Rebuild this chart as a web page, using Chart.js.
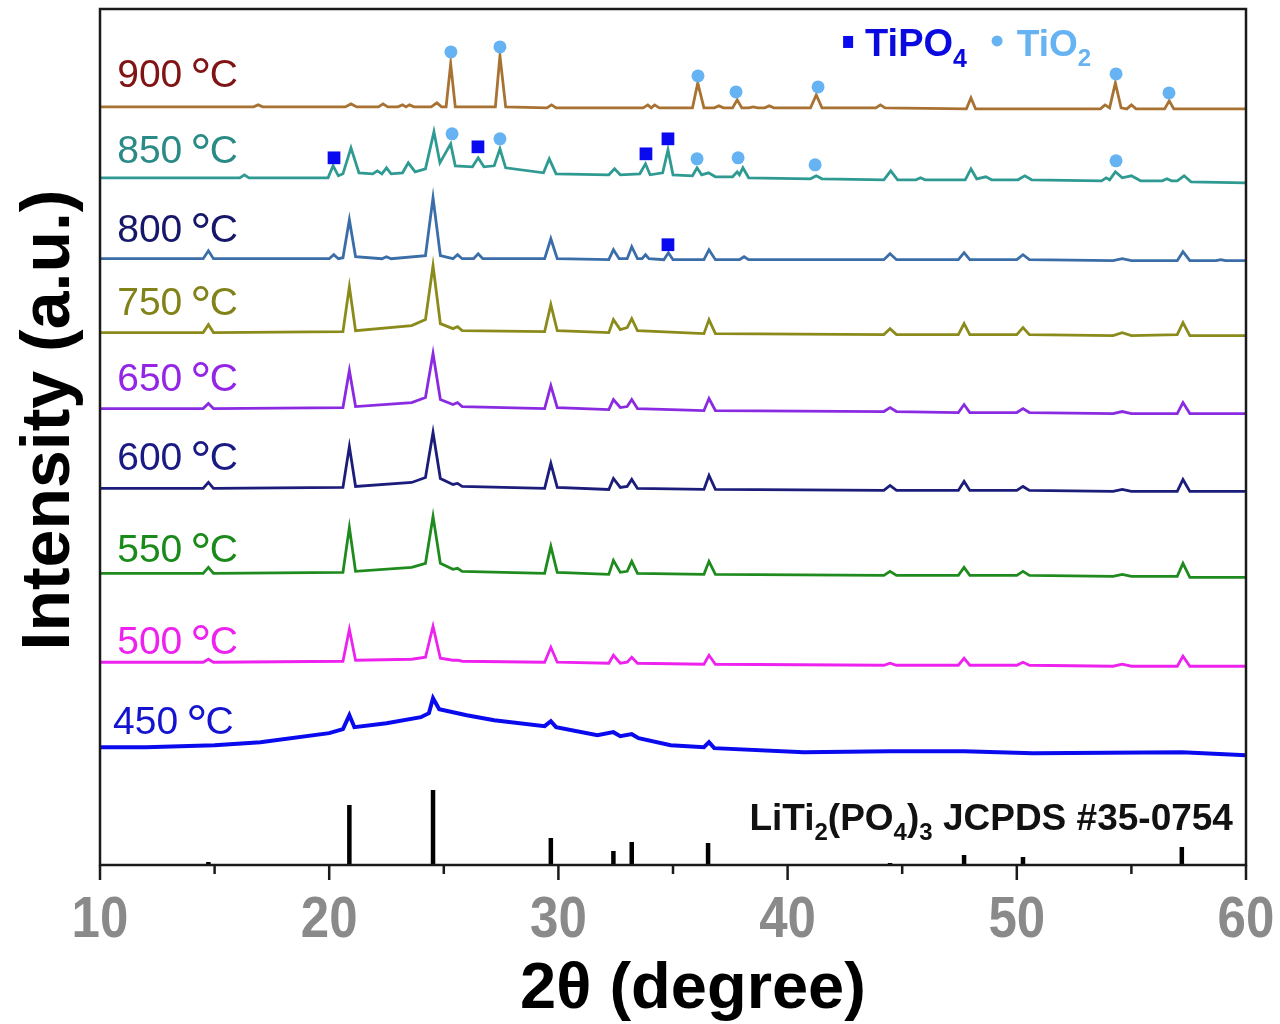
<!DOCTYPE html>
<html>
<head>
<meta charset="utf-8">
<title>XRD patterns</title>
<script src="https://cdn.jsdelivr.net/npm/chart.js@4.4.1/dist/chart.umd.min.js"></script>
<style>
  html, body { margin: 0; padding: 0; background: #fff; }
  #wrap { width: 1280px; height: 1024px; }
</style>
</head>
<body>
<div id="wrap"><canvas id="mycanvas" width="1280" height="1024"></canvas></div>
<script>
// 2theta positions shared by the 500-750 patterns
var twoTheta = [10, 14.5, 14.73, 14.95, 20.6, 20.88, 21.15, 23.6, 24.2, 24.53, 24.85, 25.4, 25.6, 25.8,
  29.4, 29.67, 29.95, 32.2, 32.4, 32.7, 33.0, 33.2, 33.45, 36.35, 36.57, 36.85, 44.2, 44.47, 44.75,
  47.45, 47.7, 47.95, 50.0, 50.27, 50.55, 54.2, 54.6, 55.0, 57.0, 57.25, 57.55, 60];

var y750 = [533, 533, 541, 533, 534, 579, 535, 540, 546, 600, 542, 537, 539, 535,
  534, 561, 535, 533, 546, 536, 538, 547, 535, 532, 546, 532, 531, 537, 531,
  531, 542, 531, 531, 538, 531, 530, 533, 530, 531, 543, 530, 530];
var y650 = [457, 457, 462, 457, 458, 495, 459, 463, 468, 512, 466, 461, 463, 459,
  457, 480, 458, 456, 466, 458, 459, 466, 457, 455, 467, 455, 454, 458, 454,
  453, 461, 453, 453, 457, 453, 452, 454, 452, 452, 463, 452, 452];
var y600 = [377, 377, 383, 377, 378, 419, 379, 383, 388, 433, 387, 381, 382, 379,
  377, 402, 378, 376, 387, 378, 379, 386, 377, 376, 390, 376, 375, 380, 375,
  375, 384, 375, 375, 379, 375, 374, 376, 374, 374, 386, 374, 374];
var y550 = [292, 292, 298, 292, 293, 338, 294, 298, 302, 349, 302, 296, 297, 294,
  292, 319, 293, 291, 305, 293, 294, 304, 292, 291, 304, 291, 290, 294, 290,
  290, 298, 290, 290, 294, 290, 289, 291, 289, 289, 302, 288, 288];
var y500 = [203, 203, 206, 203, 204, 236, 205, 206, 208, 239, 207, 205, 205, 204,
  203, 218, 203, 202, 210, 202, 203, 208, 202, 201, 210, 201, 200, 202, 200,
  200, 207, 200, 200, 203, 200, 199, 201, 199, 199, 209, 199, 199];

var trace900 = [[10, 759], [16.7, 759], [16.9, 761], [17.1, 759], [20.7, 759], [20.95, 762], [21.2, 759],
  [22.15, 759], [22.35, 762], [22.55, 759], [23.0, 759], [23.2, 761], [23.35, 759], [23.5, 761], [23.7, 759],
  [24.45, 759], [24.7, 763], [24.9, 759], [25.1, 759], [25.3, 802], [25.5, 759], [27.25, 759], [27.45, 810],
  [27.7, 759], [29.5, 758], [29.7, 761], [29.9, 758], [33.7, 758], [33.9, 761], [34.05, 758], [34.2, 761],
  [34.4, 758], [35.85, 758], [36.08, 783], [36.35, 758], [36.8, 758], [37.0, 760], [37.2, 758], [37.6, 758],
  [37.8, 766], [38.0, 758], [38.3, 758], [38.5, 759], [38.7, 758], [39.0, 758], [39.2, 760], [39.4, 758],
  [41.0, 758], [41.25, 771], [41.5, 758], [43.85, 758], [44.05, 761], [44.25, 758], [47.8, 757], [48.0, 768],
  [48.2, 757], [53.65, 757], [53.85, 761], [54.05, 758], [54.3, 783], [54.55, 758], [54.8, 757], [55.0, 761],
  [55.2, 757], [56.45, 757], [56.65, 765], [56.85, 757], [60, 757]];

var trace850 = [[10, 688], [16.1, 688], [16.3, 691], [16.5, 688], [19.95, 688], [20.17, 700], [20.4, 690],
  [20.6, 692], [20.95, 718], [21.3, 693], [21.9, 692], [22.1, 695], [22.3, 692], [22.5, 698], [22.7, 692],
  [23.2, 693], [23.45, 703], [23.75, 694], [24.2, 697], [24.57, 734], [24.83, 703], [25.3, 722], [25.5, 700],
  [26.25, 699], [26.5, 708], [26.75, 699], [27.2, 700], [27.45, 717], [27.7, 698], [29.35, 693], [29.6, 707],
  [29.9, 692], [32.2, 691], [32.45, 697], [32.7, 691], [33.55, 692], [33.8, 702], [34.0, 691], [34.55, 693],
  [34.78, 716], [35.0, 691], [35.85, 690], [36.05, 698], [36.25, 691], [36.55, 693], [36.85, 689], [37.6, 689],
  [37.8, 694], [37.9, 691], [38.05, 698], [38.3, 688], [41.0, 687], [41.25, 690], [41.5, 687], [44.2, 686],
  [44.5, 695], [44.8, 686], [45.6, 686], [45.8, 688], [46.0, 686], [47.75, 686], [48.0, 697], [48.25, 687],
  [48.65, 689], [48.9, 686], [50.05, 686], [50.35, 690], [50.65, 686], [53.7, 685], [53.9, 688], [54.05, 686],
  [54.3, 694], [54.6, 688], [55.0, 690], [55.4, 685], [56.35, 685], [56.55, 687], [56.75, 685], [57.0, 685],
  [57.3, 690], [57.6, 684], [60, 683]];

var trace800 = [[10, 607], [14.5, 607], [14.73, 615], [14.95, 607], [20.0, 607], [20.2, 611], [20.4, 607],
  [20.6, 608], [20.88, 646], [21.15, 609], [22.3, 607], [22.5, 609], [22.7, 607], [24.2, 610], [24.53, 668],
  [24.85, 610], [25.4, 607], [25.6, 611], [25.8, 607], [26.3, 607], [26.5, 612], [26.7, 607], [29.4, 607],
  [29.67, 627], [29.95, 607], [32.2, 606], [32.4, 616], [32.65, 607], [33.0, 607], [33.2, 619], [33.45, 607],
  [33.65, 607], [33.8, 611], [33.95, 607], [34.6, 606], [34.8, 613], [35.0, 606], [36.35, 606], [36.57, 616],
  [36.85, 606], [37.9, 606], [38.1, 609], [38.3, 606], [44.2, 606], [44.47, 612], [44.75, 606], [47.45, 606],
  [47.7, 613], [47.95, 606], [50.0, 606], [50.27, 611], [50.55, 606], [54.2, 605], [54.6, 607], [55.0, 605],
  [57.0, 605], [57.25, 614], [57.55, 605], [58.7, 605], [58.9, 606], [59.1, 605], [60, 605]];

// amorphous hump at 450 C
var trace450 = [[10, 118], [12, 118], [15, 120], [17, 123], [20, 132], [20.6, 136], [20.88, 150], [21.1, 138],
  [22.5, 142], [24.0, 148], [24.35, 152], [24.53, 167], [24.8, 156], [26.0, 150], [27.2, 145], [29.4, 139],
  [29.67, 144], [29.9, 138], [31.7, 130], [32.4, 133], [32.7, 129], [33.2, 131], [33.5, 127], [34.9, 120],
  [36.35, 118], [36.57, 123], [36.8, 117], [40.7, 113], [44.47, 114], [47.7, 114], [50.7, 112], [57.2, 113], [60, 110]];

// LiTi2(PO4)3 reference sticks
var refAngles = [14.73, 20.88, 24.53, 29.67, 32.4, 33.2, 36.53, 44.47, 47.7, 50.27, 57.2];
var refHeights = [3, 60, 75, 27, 14, 23, 22, 2, 10, 8, 18];

// phase markers
var tio2Marks = [[25.31, 814], [27.45, 819], [36.09, 790], [37.75, 774], [41.33, 779], [54.33, 792], [56.64, 773],
  [25.36, 732], [27.45, 727], [36.05, 707], [37.84, 708], [41.2, 701], [54.33, 705]];
var tipo4Marks = [[20.21, 708], [26.49, 719], [33.82, 712], [34.78, 727], [34.78, 621]];

var xTicks = [10, 20, 30, 40, 50, 60];
var tempLabels = ['900', '850', '800', '750', '650', '600', '550', '500', '450'];
var labelBase = [779, 703, 624, 551, 475, 395, 303, 211, 131];
var labelColors = ['#801414', '#2a8a86', '#16166a', '#82821a', '#9326e6', '#1a1a84', '#1a8a1a', '#ee22ee', '#1414d0'];
var lineColors = ['#a87232', '#2f9a92', '#3b6ea8', '#8b8b1c', '#8a2be2', '#1c1c7a', '#1f8b1f', '#ee22ee', '#0a0aee'];

var FONT = "'Liberation Sans', Arial, sans-serif";

function zip(xs, ys) {
  return xs.map(function(x, i) { return [x, ys[i]]; });
}

// each stick becomes a vertical segment, broken by a null
var stickData = [];
refAngles.forEach(function(x, i) {
  stickData.push([x, 0], [x, refHeights[i]], [x, null]);
});

var traces = [trace900, trace850, trace800, zip(twoTheta, y750), zip(twoTheta, y650),
  zip(twoTheta, y600), zip(twoTheta, y550), zip(twoTheta, y500), trace450];

var datasets = [];
datasets.push({
  type: 'scatter', data: tio2Marks, showLine: false, pointStyle: 'circle',
  pointRadius: 6.5, pointBackgroundColor: '#66b3f4', pointBorderWidth: 0, order: 0
});
datasets.push({
  type: 'scatter', data: tipo4Marks, showLine: false, pointStyle: 'rect',
  pointRadius: 9, pointBackgroundColor: '#0a0af0', pointBorderWidth: 0, order: 0
});
for (var i = 0; i < traces.length; i++) {
  datasets.push({
    type: 'line', label: tempLabels[i] + ' °C', data: traces[i],
    borderColor: lineColors[i], borderWidth: i == 8 ? 4 : 2.8,
    pointRadius: 0, tension: 0, fill: false, order: 1
  });
}
datasets.push({
  type: 'line', label: 'JCPDS #35-0754', data: stickData, borderColor: '#000',
  borderWidth: 4.5, borderCapStyle: 'butt', pointRadius: 0, spanGaps: false, order: 2
});

// draw text pieces with subscripts, returns end x
function drawParts(ctx, parts, x, y, size, color, weight) {
  ctx.fillStyle = color;
  ctx.textBaseline = 'alphabetic';
  ctx.textAlign = 'left';
  parts.forEach(function(p) {
    var s = p[1] == 0 ? size : Math.round(size * 0.66);
    var dy = p[1] == 1 ? size * 0.28 : 0;
    ctx.font = weight + ' ' + s + 'px ' + FONT;
    ctx.fillText(p[0], x, y + dy);
    x += ctx.measureText(p[0]).width;
  });
  return x;
}

function partsWidth(ctx, parts, size, weight) {
  var w = 0;
  parts.forEach(function(p) {
    var s = p[1] == 0 ? size : Math.round(size * 0.66);
    ctx.font = weight + ' ' + s + 'px ' + FONT;
    w += ctx.measureText(p[0]).width;
  });
  return w;
}

var decorations = {
  id: 'decorations',
  afterDraw: function(chart) {
    var ctx = chart.ctx;
    var xs = chart.scales.x, ys = chart.scales.y;
    var a = chart.chartArea;
    ctx.save();

    // frame
    ctx.strokeStyle = '#1a1a1a';
    ctx.lineWidth = 2.5;
    ctx.strokeRect(a.left, a.top, a.right - a.left, a.bottom - a.top);

    // major + minor ticks, pointing out
    for (var v = 10; v <= 60; v += 5) {
      var px = xs.getPixelForValue(v);
      ctx.beginPath();
      ctx.moveTo(px, a.bottom);
      ctx.lineTo(px, a.bottom + (v % 10 == 0 ? 15 : 9));
      ctx.stroke();
    }

    // tick labels, slightly condensed like the original
    ctx.fillStyle = '#8a8a8a';
    ctx.font = 'bold 58px ' + FONT;
    ctx.textAlign = 'center';
    ctx.textBaseline = 'alphabetic';
    xTicks.forEach(function(t) {
      ctx.save();
      ctx.translate(xs.getPixelForValue(t), a.bottom + 72);
      ctx.scale(0.88, 1);
      ctx.fillText(String(t), 0, 0);
      ctx.restore();
    });

    // temperature labels
    for (var i = 0; i < tempLabels.length; i++) {
      var lx = xs.getPixelForValue(i == 8 ? 10.57 : 10.75);
      var ly = ys.getPixelForValue(labelBase[i]);
      ctx.fillStyle = labelColors[i];
      ctx.textAlign = 'left';
      ctx.textBaseline = 'alphabetic';
      ctx.font = '39px ' + FONT;
      var t = tempLabels[i] + ' ';
      ctx.fillText(t, lx, ly);
      lx += ctx.measureText(t).width;
      ctx.font = '54px ' + FONT;
      ctx.fillText('°', lx - 3, ly + 9);
      lx += ctx.measureText('°').width - 5;
      ctx.font = '39px ' + FONT;
      ctx.fillText('C', lx, ly);
    }

    // phase legend
    var sx = xs.getPixelForValue(42.64), sy = ys.getPixelForValue(824);
    ctx.fillStyle = '#0a0af0';
    ctx.fillRect(sx - 5, sy - 6, 10, 12);
    drawParts(ctx, [['TiPO', 0], ['4', 1]], xs.getPixelForValue(43.38), ys.getPixelForValue(810), 38, '#0a0ae0', 'bold');
    var cx = xs.getPixelForValue(49.14), cy = ys.getPixelForValue(825);
    ctx.fillStyle = '#66b3f4';
    ctx.beginPath();
    ctx.arc(cx, cy, 5.5, 0, Math.PI * 2);
    ctx.fill();
    drawParts(ctx, [['TiO', 0], ['2', 1]], xs.getPixelForValue(50.0), ys.getPixelForValue(810), 37, '#66b3f4', 'bold');

    // reference card label, right aligned
    var refParts = [['LiTi', 0], ['2', 1], ['(PO', 0], ['4', 1], [')', 0], ['3', 1], [' JCPDS #35-0754', 0]];
    var w = partsWidth(ctx, refParts, 37, 'bold');
    drawParts(ctx, refParts, xs.getPixelForValue(59.43) - w, ys.getPixelForValue(35), 37, '#111', 'bold');

    // axis titles
    ctx.fillStyle = '#000';
    ctx.font = 'bold 68px ' + FONT;
    ctx.textAlign = 'center';
    ctx.textBaseline = 'middle';
    ctx.save();
    ctx.translate(50, 420);
    ctx.rotate(-Math.PI / 2);
    ctx.fillText('Intensity (a.u.)', 0, 0);
    ctx.restore();
    ctx.font = 'bold 65px ' + FONT;
    ctx.textBaseline = 'alphabetic';
    ctx.fillText('2θ (degree)', 693, 1008);

    ctx.restore();
  }
};

var ctx = document.getElementById('mycanvas');
var chart = new Chart(ctx, {
  type: 'line',
  data: { datasets: datasets },
  options: {
    responsive: false,
    animation: false,
    layout: { padding: { top: 8, right: 34, left: 0, bottom: 0 } },
    plugins: { legend: { display: false }, tooltip: { enabled: false } },
    scales: {
      x: {
        type: 'linear', min: 10, max: 60, offset: false,
        grid: { display: false }, border: { display: false },
        ticks: { display: false },
        afterFit: function(s) { s.height = 159; }
      },
      y: {
        type: 'linear', min: 0, max: 857,
        grid: { display: false }, border: { display: false },
        ticks: { display: false },
        afterFit: function(s) { s.width = 100; }
      }
    }
  },
  plugins: [decorations]
});
</script>
</body>
</html>
